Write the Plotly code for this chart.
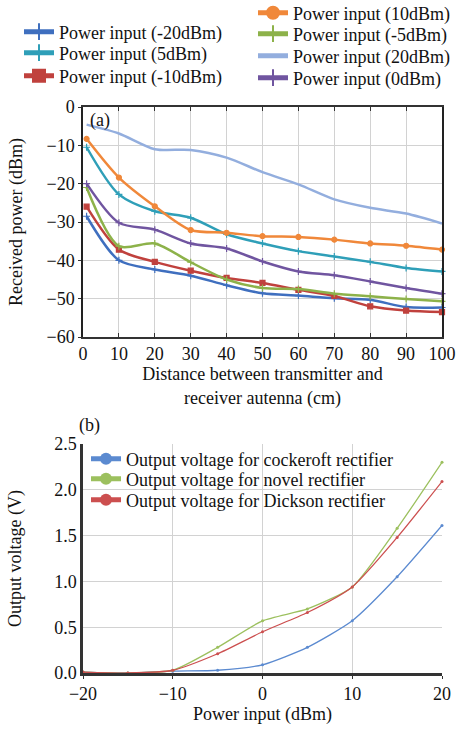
import plotly.graph_objects as go

# ---------------- Data: panel (a) ----------------
dist = [1, 10, 20, 30, 40, 50, 60, 70, 80, 90, 100]
p_m20 = [-28.5, -40.0, -42.4, -44.0, -46.5, -48.6, -49.2, -49.9, -50.3, -52.2, -52.3]
p_5 = [-10.5, -22.8, -27.2, -28.9, -33.2, -35.6, -37.6, -39.0, -40.4, -42.0, -42.9]
p_m10 = [-26.0, -37.2, -40.4, -42.7, -44.6, -45.9, -47.7, -49.3, -52.0, -53.1, -53.5]
p_10 = [-8.3, -18.4, -25.9, -32.1, -32.8, -33.7, -33.9, -34.6, -35.6, -36.2, -37.2]
p_m5 = [-21.0, -36.3, -35.6, -40.5, -45.0, -47.2, -47.5, -48.7, -49.4, -50.1, -50.7]
p_20 = [-4.6, -6.9, -11.0, -11.2, -13.2, -17.0, -20.2, -24.1, -26.3, -27.8, -30.4]
p_0 = [-20.0, -30.2, -32.0, -35.6, -36.9, -40.3, -42.9, -43.9, -45.5, -47.2, -48.7]

# ---------------- Data: panel (b) ----------------
pin = [-20, -15, -10, -5, 0, 5, 10, 15, 20]
v_cock = [0.01, 0.00, 0.02, 0.03, 0.09, 0.28, 0.57, 1.05, 1.61]
v_novel = [0.01, 0.00, 0.03, 0.28, 0.57, 0.70, 0.94, 1.58, 2.30]
v_dick = [0.01, 0.00, 0.03, 0.21, 0.45, 0.66, 0.94, 1.48, 2.09]

FONT = "Liberation Serif"
W, H = 460, 731

fig = go.Figure()

series_a = [
    ("Power input (-20dBm)", p_m20, "#3f6fbf", "cross-thin-open", "legend"),
    ("Power input (5dBm)", p_5, "#2f9fb8", "cross-thin-open", "legend2"),
    ("Power input (-10dBm)", p_m10, "#c0413d", "square", "legend3"),
    ("Power input (10dBm)", p_10, "#f0883a", "circle", "legend4"),
    ("Power input (-5dBm)", p_m5, "#8db24a", "cross-thin-open", "legend5"),
    ("Power input (20dBm)", p_20, "#93aede", None, "legend6"),
    ("Power input (0dBm)", p_0, "#7055a0", "cross-thin-open", "legend7"),
]
for name, ys, col, sym, lg in series_a:
    mode = "lines+markers" if sym else "lines"
    kw = {}
    if sym:
        kw["marker"] = dict(symbol=sym, size=5, color=col, line=dict(color=col, width=1.2))
    fig.add_trace(go.Scatter(
        x=dist, y=ys, name=name, mode=mode,
        line=dict(color=col, width=2.5, shape="spline", smoothing=0.8),
        xaxis="x", yaxis="y", legend=lg, cliponaxis=False, **kw))

series_b = [
    ("Output voltage for cockeroft rectifier", v_cock, "#5b8ad0", "legend8"),
    ("Output voltage for novel rectifier", v_novel, "#9cc05e", "legend9"),
    ("Output voltage for Dickson rectifier", v_dick, "#cc4f4f", "legend10"),
]
for name, ys, col, lg in series_b:
    fig.add_trace(go.Scatter(
        x=pin, y=ys, name=name, mode="lines+markers",
        line=dict(color=col, width=1.3, shape="spline", smoothing=0.6),
        marker=dict(size=3, color=col),
        xaxis="x2", yaxis="y2", legend=lg, cliponaxis=False))

# plot area in pixels
L, R, T, B = 83, 18, 107, 58
pw = W - L - R
ph = H - T - B
BOT = H - B


def px(x):
    return (x - L) / pw


def py(y):
    return (BOT - y) / ph


ya_dom = [py(337), 1.0]
yb_dom = [0.0, py(444)]

axfont = dict(family=FONT, size=18, color="#111")
grid = "#d2d2d2"

layout = dict(
    width=W, height=H,
    margin=dict(l=L, r=R, t=T, b=B, autoexpand=False),
    showlegend=True,
    paper_bgcolor="white", plot_bgcolor="white",
    font=dict(family=FONT, size=18, color="#111"),
    xaxis=dict(domain=[0, 1], range=[0, 100], dtick=10, anchor="y",
               showgrid=True, gridcolor=grid, zeroline=False,
               showline=True, linecolor="#333", linewidth=1.5, mirror="ticks",
               ticks="inside", ticklen=4, tickcolor="#333",
               tickfont=axfont,
               title=dict(text="Distance between transmitter and<br>receiver autenna (cm)",
                          font=axfont, standoff=1)),
    yaxis=dict(domain=ya_dom, range=[-60, 0], dtick=10, anchor="x",
               showgrid=True, gridcolor=grid, zeroline=False,
               showline=True, linecolor="#222", linewidth=1.5, mirror=True,
               ticks="outside", ticklen=3, tickcolor="#333",
               tickfont=axfont,
               title=dict(text="Received power (dBm)", font=axfont, standoff=19)),
    xaxis2=dict(domain=[0, 1], range=[-20, 20], dtick=10, anchor="y2",
                showgrid=True, gridcolor=grid, zeroline=False,
                showline=True, linecolor="#333", linewidth=2.5,
                ticks="outside", ticklen=3, tickcolor="#333",
                tickfont=axfont,
                title=dict(text="Power input (dBm)", font=axfont, standoff=4)),
    yaxis2=dict(domain=yb_dom, range=[0, 2.5], dtick=0.5, tickformat=".1f", anchor="x2",
                showgrid=True, gridcolor=grid, zeroline=False,
                showline=True, linecolor="#333", linewidth=2.5,
                ticks="", tickfont=axfont,
                title=dict(text="Output voltage (V)", font=axfont, standoff=28)),
    annotations=[
        dict(text="(a)", xref="paper", yref="paper",
             x=px(100), y=py(120),
             xanchor="center", yanchor="middle", showarrow=False,
             font=dict(family=FONT, size=18, color="#111")),
        dict(text="(b)", xref="paper", yref="paper",
             x=px(89), y=py(425),
             xanchor="center", yanchor="middle", showarrow=False,
             font=dict(family=FONT, size=18, color="#111")),
    ],
)

# individual legends: (text-left-x, row-center-y) in pixels
leg_pos = {
    "legend": (60, 33), "legend2": (60, 54), "legend3": (60, 77),
    "legend4": (294, 14), "legend5": (294, 35), "legend6": (294, 57), "legend7": (294, 79),
    "legend8": (127, 460), "legend9": (127, 480), "legend10": (127, 501),
}
for key, (tx, ty) in leg_pos.items():
    layout[key] = dict(
        xref="paper", yref="paper", visible=True,
        x=px(tx - 41), y=py(ty - 1), xanchor="left", yanchor="middle",
        bgcolor="rgba(0,0,0,0)", borderwidth=0,
        font=dict(family=FONT, size=18, color="#111"),
        itemsizing="constant")

fig.update_layout(**layout)
fig.write_html("out.html", config={"displayModeBar": False},
               post_script="document.body.style.margin='0px';document.body.style.padding='0px';")
